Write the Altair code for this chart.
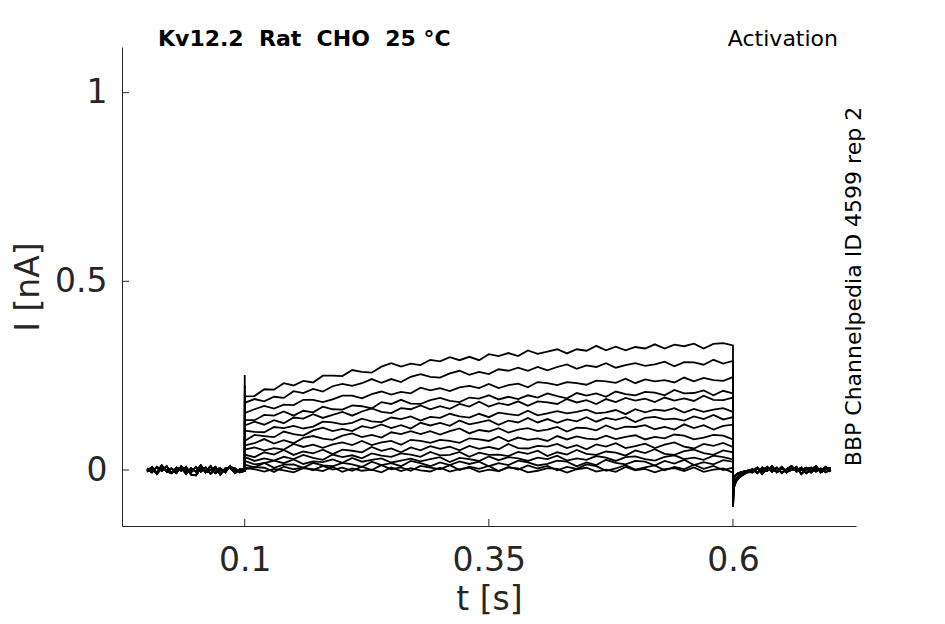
import altair as alt
import pandas as pd

# ---- text ----
NB = "\u00a0"
title_text = "Kv12.2" + NB * 2 + "Rat" + NB * 2 + "CHO" + NB * 2 + "25" + NB + "°C"
protocol_text = "Activation"
side_text = "BBP Channelpedia ID 4599 rep 2"

x_tick_values = [0.1, 0.35, 0.6]
y_tick_values = [0, 0.5, 1]

# ---- current during the pulse (nA), sampled every 10 ms from 0.10 s to 0.60 s ----
trace_01 = [.195,.196,.214,.213,.230,.224,.236,.232,.250,.250,
            .249,.265,.260,.258,.274,.283,.274,.282,.278,.292,
            .288,.299,.291,.300,.291,.307,.302,.310,.302,.317,
            .308,.314,.320,.309,.320,.316,.329,.317,.327,.317,
            .326,.322,.333,.322,.332,.328,.335,.322,.334,.336,.330]
trace_02 = [.178,.188,.182,.194,.191,.209,.204,.215,.208,.222,
            .228,.223,.230,.241,.231,.241,.233,.247,.254,.247,
            .245,.256,.263,.252,.260,.254,.267,.263,.271,.263,
            .273,.264,.273,.280,.268,.277,.273,.283,.271,.278,
            .283,.276,.280,.287,.275,.286,.285,.279,.292,.282,.289]
trace_03 = [.151,.161,.170,.163,.173,.172,.186,.186,.180,.187,
            .197,.197,.190,.201,.208,.200,.207,.203,.218,.211,
            .217,.209,.219,.223,.217,.228,.217,.225,.229,.219,
            .233,.230,.225,.233,.230,.226,.237,.235,.231,.242,
            .230,.240,.235,.238,.232,.245,.235,.244,.238,.236,.246]
trace_04 = [.132,.132,.146,.144,.155,.144,.157,.153,.168,.161,
            .160,.171,.169,.163,.180,.175,.186,.176,.175,.185,
            .191,.183,.180,.192,.189,.198,.187,.194,.188,.198,
            .192,.203,.196,.190,.204,.197,.203,.194,.208,.201,
            .198,.207,.205,.198,.212,.203,.204,.211,.198,.210,.203]
trace_05 = [.118,.128,.120,.132,.124,.139,.136,.148,.138,.146,
            .154,.144,.155,.163,.154,.151,.164,.161,.171,.161,
            .169,.162,.175,.168,.181,.168,.177,.172,.182,.170,
            .182,.179,.175,.188,.179,.185,.175,.188,.180,.191,
            .184,.189,.180,.192,.184,.190,.183,.197,.186,.185,.192]
trace_06 = [.104,.101,.100,.114,.111,.117,.110,.115,.128,.126,
            .121,.125,.136,.129,.127,.139,.135,.142,.131,.141,
            .138,.149,.142,.139,.149,.140,.152,.148,.145,.157,
            .145,.150,.156,.150,.154,.160,.150,.153,.159,.148,
            .161,.153,.160,.157,.164,.152,.162,.154,.160,.164,.154]
trace_07 = [.077,.093,.090,.087,.102,.095,.091,.105,.112,.103,
            .109,.103,.116,.111,.121,.111,.119,.110,.125,.118,
            .125,.117,.131,.121,.126,.132,.120,.131,.126,.138,
            .126,.135,.125,.134,.129,.140,.128,.138,.133,.140,
            .127,.138,.141,.134,.136,.131,.142,.135,.146,.134,.140]
trace_08 = [.065,.071,.082,.070,.079,.071,.085,.090,.083,.080,
            .091,.097,.087,.093,.086,.100,.095,.103,.095,.103,
            .094,.103,.110,.097,.106,.102,.111,.099,.107,.111,
            .103,.107,.114,.102,.112,.111,.105,.118,.108,.115,
            .114,.119,.108,.114,.107,.121,.111,.119,.107,.117,.120]
trace_09 = [.054,.060,.052,.058,.054,.069,.061,.067,.059,.068,
            .073,.066,.077,.066,.073,.077,.067,.080,.077,.072,
            .080,.077,.072,.084,.081,.077,.088,.076,.086,.080,
            .084,.077,.090,.081,.089,.083,.081,.091,.082,.088,
            .092,.081,.088,.084,.094,.091,.081,.086,.093,.091,.081]
trace_10 = [.041,.034,.047,.041,.053,.040,.049,.044,.054,.042,
            .054,.051,.047,.061,.051,.057,.047,.060,.052,.063,
            .056,.062,.052,.064,.056,.061,.055,.069,.058,.057,
            .064,.062,.069,.058,.066,.055,.068,.062,.071,.058,
            .063,.070,.058,.067,.073,.062,.057,.069,.064,.072,.061]
trace_11 = [.035,.024,.031,.025,.035,.029,.040,.032,.027,.041,
            .034,.039,.031,.044,.038,.035,.044,.041,.035,.048,
            .039,.040,.048,.035,.046,.040,.041,.037,.048,.043,
            .051,.037,.047,.041,.053,.043,.040,.049,.046,.038,
            .052,.045,.055,.043,.040,.050,.054,.045,.040,.052,.047]
trace_12 = [.024,.015,.018,.025,.018,.028,.016,.023,.021,.028,
            .019,.032,.022,.027,.031,.020,.025,.030,.023,.029,
            .034,.021,.032,.029,.024,.036,.026,.034,.031,.024,
            .033,.029,.038,.025,.031,.027,.037,.033,.024,.034,
            .036,.029,.025,.035,.039,.029,.033,.027,.038,.034,.028]
trace_13 = [.014,.007,.019,.006,.014,.015,.006,.019,.012,.010,
            .019,.015,.008,.022,.013,.018,.010,.024,.018,.010,
            .020,.013,.023,.016,.022,.010,.018,.013,.025,.020,
            .012,.016,.025,.022,.010,.020,.013,.027,.019,.015,
            .024,.022,.012,.024,.017,.027,.013,.021,.015,.026,.022]
trace_14 = [.001,.008,.006,-.005,.009,.002,.007,-.001,.011,.001,
            .006,-.002,.009,.000,.013,.002,.007,-.002,.011,.006,
            .002,.013,.000,.009,.003,.011,-.003,.008,.001,.012,
            .004,.011,-.001,.008,.003,.015,.010,-.002,.004,.013,
            .001,.007,.012,-.001,.008,.002,.014,.003,.011,.000,.006]
trace_15 = [.006,.002,-.004,.003,-.001,-.006,.005,.002,-.003,.008,
            -.005,.004,-.002,.001,-.006,.007,-.003,.005,-.001,-.004,
            .006,-.004,.002,.006,-.005,.001,-.003,.007,.004,-.006,
            -.002,.005,.003,-.007,.002,.006,-.004,.001,-.005,.008,
            -.001,.003,-.006,.002,.005,-.003,.007,-.005,.001,.004,-.007]

traces = [trace_01, trace_02, trace_03, trace_04, trace_05, trace_06, trace_07,
          trace_08, trace_09, trace_10, trace_11, trace_12, trace_13, trace_14, trace_15]

# capacitive transient at pulse onset (nA)
spike_peak = [0.252, 0.225, 0.205, 0.185, 0.165, 0.145, 0.125, 0.105,
              0.088, 0.072, 0.056, 0.042, 0.031, 0.020, 0.014]

# pre-pulse baseline (0 .. 0.1 s every 5 ms)
pre_A = [0.004,-0.006,0.008,-0.002,0.010,-0.008,0.002,0.006,-0.010,0.004,-0.004,
         0.012,-0.006,0.000,0.008,-0.012,0.004,0.006,-0.008,0.002,0.000]
pre_B = [-0.004,0.008,-0.010,0.006,0.000,0.004,-0.008,0.010,-0.002,-0.006,0.008,
         -0.004,0.006,-0.010,0.002,0.004,-0.006,0.010,-0.004,0.000,0.002]
pre_C = [0.002,0.000,-0.006,0.012,-0.004,-0.008,0.006,-0.002,0.008,-0.012,-0.014,
         0.006,-0.004,0.010,-0.008,0.000,-0.002,0.008,0.004,-0.006,-0.002]

# tail after the pulse end
t_tail = [0.600, 0.601, 0.603, 0.606, 0.610, 0.615]
tail_big = [-0.098, -0.046, -0.031, -0.021, -0.013, -0.006]
tail_mid = [-0.072, -0.034, -0.023, -0.015, -0.009, -0.004]
tail_small = [-0.040, -0.019, -0.013, -0.008, -0.005, -0.002]

# post-pulse baseline (0.62 .. 0.70 s every 5 ms)
post_A = [-0.006,0.004,-0.002,0.008,-0.004,0.006,-0.008,0.002,0.010,-0.004,0.000,
          0.006,-0.006,0.004,-0.002,0.008,-0.004]
post_B = [0.002,-0.008,0.006,-0.002,0.010,-0.006,0.004,-0.004,0.000,0.008,-0.010,
          0.002,0.006,-0.004,0.004,-0.006,0.002]
post_C = [-0.002,0.006,-0.010,0.004,0.002,-0.004,0.008,-0.006,0.004,-0.002,0.006,
          -0.008,0.000,0.010,-0.006,0.002,0.006]

base_variant = ["A", "B", "C"] * 5
tail_class = ["big", "big", "big", "mid", "mid", "mid", "mid", "mid",
              "small", "small", "small", "small", "small", "small", "small"]

pre_sets = {"A": pre_A, "B": pre_B, "C": pre_C}
post_sets = {"A": post_A, "B": post_B, "C": post_C}
tail_sets = {"big": tail_big, "mid": tail_mid, "small": tail_small}

t_pre = [round(0.005 * i, 3) for i in range(21)]
t_pulse = [round(0.1 + 0.01 * i, 3) for i in range(51)]
t_post = [round(0.62 + 0.005 * i, 3) for i in range(17)]

rows = []
for k, tr in enumerate(traces):
    seq = (list(zip(t_pre, pre_sets[base_variant[k]]))
           + [(0.1, spike_peak[k])]
           + list(zip(t_pulse, tr))
           + list(zip(t_tail, tail_sets[tail_class[k]]))
           + list(zip(t_post, post_sets[base_variant[k]])))
    for i, (t, v) in enumerate(seq):
        rows.append({"sweep": k, "t": t, "I": v, "i": i})
df = pd.DataFrame(rows)

W, H = 734, 479
FONT = "DejaVu Sans"
AX = "#262626"

lines = alt.Chart(df).mark_line(color="black", strokeWidth=1.8).encode(
    x=alt.X("t:Q",
            scale=alt.Scale(domain=[-0.0257, 0.726], nice=False, zero=False),
            axis=alt.Axis(values=x_tick_values, format="~g", title="t [s]",
                          grid=False, ticks=False, tickSize=0, labelPadding=18,
                          labelFlush=False, labelOverlap=False,
                          titleX=W / 2, titleY=83, titleBaseline="alphabetic",
                          titleAlign="center")),
    y=alt.Y("I:Q",
            scale=alt.Scale(domain=[-0.1484, 1.121], nice=False, zero=False),
            axis=alt.Axis(values=y_tick_values, format="~g", title="I [nA]",
                          grid=False, ticks=False, tickSize=0, labelPadding=15,
                          labelFlush=False, labelOverlap=False,
                          titleX=-84, titleY=H / 2, titleAngle=270,
                          titleBaseline="alphabetic", titleAlign="center")),
    detail="sweep:N",
    order="i:Q",
)

xticks = alt.Chart(pd.DataFrame({"t": x_tick_values})).mark_rule(
    color=AX, strokeWidth=1).encode(x="t:Q", y=alt.value(H), y2=alt.value(H - 7))
yticks = alt.Chart(pd.DataFrame({"I": y_tick_values})).mark_rule(
    color=AX, strokeWidth=1).encode(y="I:Q", x=alt.value(0), x2=alt.value(7))

title_mark = alt.Chart(pd.DataFrame({"s": [title_text]})).mark_text(
    font=FONT, fontSize=22, fontWeight="bold", align="left",
    baseline="alphabetic", color="black").encode(
    text="s:N", x=alt.value(36), y=alt.value(-1))
protocol_mark = alt.Chart(pd.DataFrame({"s": [protocol_text]})).mark_text(
    font=FONT, fontSize=22, align="right", baseline="alphabetic",
    color="black").encode(text="s:N", x=alt.value(716), y=alt.value(-1))
side_mark = alt.Chart(pd.DataFrame({"s": [side_text]})).mark_text(
    font=FONT, fontSize=22, align="center", baseline="alphabetic", angle=270,
    color="black").encode(text="s:N", x=alt.value(739), y=alt.value(H / 2))

chart = alt.layer(lines, xticks, yticks, title_mark, protocol_mark, side_mark).properties(
    width=W, height=H,
    autosize=alt.AutoSizeParams(type="none"),
    padding={"left": 114, "top": 39, "right": 81, "bottom": 90},
    background="white",
).configure_view(stroke=None).configure_axis(
    domainColor=AX, domainWidth=1,
    labelFont=FONT, labelFontSize=33, labelColor=AX,
    titleFont=FONT, titleFontSize=33, titleFontWeight="normal", titleColor=AX,
)

chart.save("out.html", embed_options={"renderer": "svg", "actions": False})
